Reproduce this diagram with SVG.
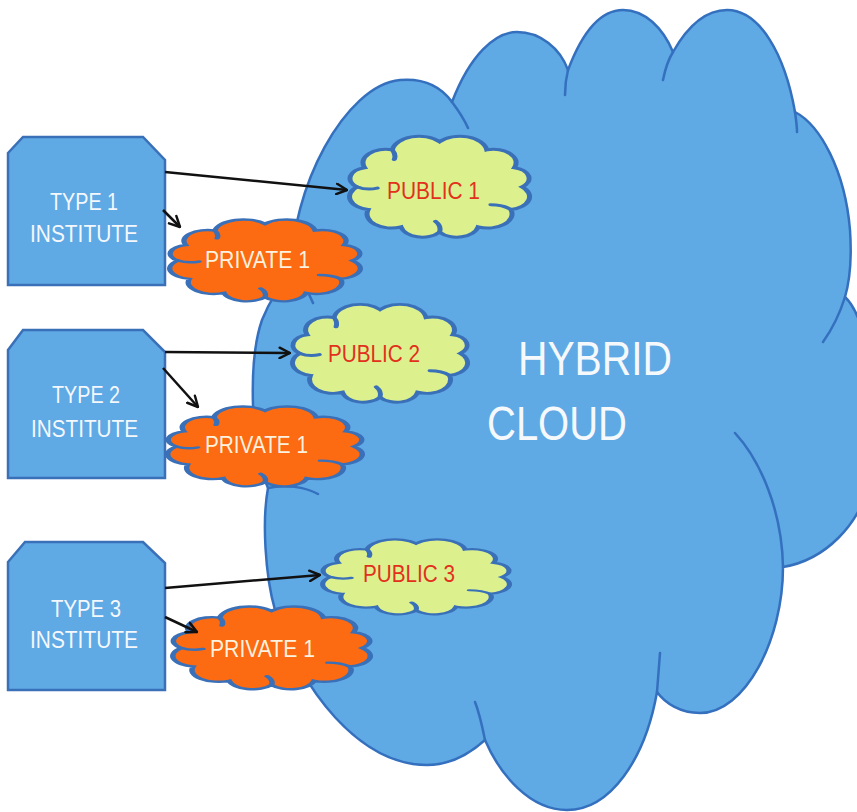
<svg xmlns="http://www.w3.org/2000/svg" width="857" height="812" viewBox="0 0 857 812">
<defs>
<style>
.big{fill:#5fa9e5;stroke:#3470be;stroke-width:2.5;stroke-linejoin:round}
.inner{fill:none;stroke:#3470be;stroke-width:2.5;stroke-linecap:round}
.box{fill:#5fa9e5;stroke:#3a70b8;stroke-width:2.5}
.priv{fill:#fc6a12;stroke:#3a70b8;stroke-width:2.5;vector-effect:non-scaling-stroke}
.pub{fill:#dcf18e;stroke:#3a70b8;stroke-width:2.5;vector-effect:non-scaling-stroke}
.curl{fill:none;stroke:#3a70b8;stroke-width:2.5;stroke-linecap:round;vector-effect:non-scaling-stroke}
.bt{font-family:"Liberation Sans",Arial,sans-serif;font-size:24px;fill:#f4f8fc}
.pt{font-family:"Liberation Sans",Arial,sans-serif;font-size:23px;fill:#fdf2df}
.ut{font-family:"Liberation Sans",Arial,sans-serif;font-size:24px;fill:#e2301c}
.ht{font-family:"Liberation Sans",Arial,sans-serif;font-size:48px;fill:#f6f9fc}
.arrow{fill:none;stroke:#111;stroke-width:2.5;marker-end:url(#ah)}
</style>
<marker id="ah" viewBox="0 0 10 10" refX="9" refY="5" markerWidth="13" markerHeight="13" markerUnits="userSpaceOnUse" orient="auto">
<path d="M1,1 L9,5 L1,9" fill="none" stroke="#111" stroke-width="1.9" stroke-linecap="round" stroke-linejoin="round"/>
</marker>
<path id="cloudShape" d="M91,50 A10.9,10.9 0 0 1 85.5,69 A12,12 0 0 1 69.2,83.6 A10.8,10.8 0 0 1 50,88 A10.8,10.8 0 0 1 30.8,83.6 A12,12 0 0 1 14.5,69 A10.9,10.9 0 0 1 9,50 A9.1,9.1 0 0 1 12.8,33.9 A11.2,11.2 0 0 1 26.5,18.9 A13.5,13.5 0 0 1 50,12 A13.5,13.5 0 0 1 73.5,18.9 A11.2,11.2 0 0 1 87.2,33.9 A9.1,9.1 0 0 1 91,50 Z"/>
<path id="curls" d="M9,50 q5,3 10,1 M85.5,69 q-4,-4 -10,-4 M50,88 q1,-5 -2,-9 M26.5,18.9 q2,4 1,8"/>
</defs>

<g id="hybrid-cloud">
<path class="big" d="M292,272 C290,190 345,85 400,80 C425,78 442,88 452,102 C470,55 495,32 517,32 C540,32 560,48 568,70 C585,25 605,10 623,10 C645,10 663,28 673,52 C690,22 708,10 727,10 C760,10 785,55 795,112 C820,125 845,170 850,230 C852,260 850,280 845,297 C870,320 885,420 870,480 C860,525 825,560 783,567 C783,640 745,713 700,713 C680,713 665,703 657,692 C645,760 610,810 567,810 C530,810 500,775 485,740 C465,758 447,765 427,765 C360,765 300,690 275,610 C265,575 262,520 268,488 C250,450 248,360 262,320 C270,300 280,285 292,272 Z"/>
<path class="inner" d="M452,102 C458,110 464,119 468,128 M568,70 C566,78 565,86 565,95 M673,52 C668,60 665,70 663,80 M795,112 C796,119 797,126 797,132 M845,297 C840,313 833,328 823,342 M735,433 C760,460 782,510 783,567 M657,692 C658,680 659,665 660,653 M485,740 C482,725 479,712 475,702 M268,488 C285,484 305,487 318,494 M292,272 C300,280 308,290 313,303"/>
<text class="ht" x="518" y="375" textLength="154" lengthAdjust="spacingAndGlyphs">HYBRID</text>
<text class="ht" x="487" y="440" textLength="140" lengthAdjust="spacingAndGlyphs">CLOUD</text>
</g>

<g id="type1">
<path class="box" d="M8,153 L23,137 L143,137 L165,160 L165,285 L8,285 Z"/>
<text class="bt" x="50" y="210" textLength="68" lengthAdjust="spacingAndGlyphs">TYPE 1</text>
<text class="bt" x="30" y="242" textLength="108" lengthAdjust="spacingAndGlyphs">INSTITUTE</text>
</g>
<g id="type2">
<path class="box" d="M8,350 L23,330 L143,330 L165,352 L165,478 L8,478 Z"/>
<text class="bt" x="52" y="403" textLength="68" lengthAdjust="spacingAndGlyphs">TYPE 2</text>
<text class="bt" x="31" y="437" textLength="107" lengthAdjust="spacingAndGlyphs">INSTITUTE</text>
</g>
<g id="type3">
<path class="box" d="M8,562 L25,542 L143,542 L165,563 L165,690 L8,690 Z"/>
<text class="bt" x="51" y="617" textLength="70" lengthAdjust="spacingAndGlyphs">TYPE 3</text>
<text class="bt" x="30" y="648" textLength="108" lengthAdjust="spacingAndGlyphs">INSTITUTE</text>
</g>

<g id="public1">
<g transform="translate(339,127.5) scale(2.011,1.188)"><use href="#cloudShape" class="pub"/><use href="#curls" class="curl"/></g>
<text class="ut" x="387" y="199" textLength="93" lengthAdjust="spacingAndGlyphs">PUBLIC 1</text>
</g>
<g id="private1a">
<g transform="translate(158.5,212.3) scale(2.13,0.965)"><use href="#cloudShape" class="priv"/><use href="#curls" class="curl"/></g>
<text class="pt" x="205" y="268" textLength="105" lengthAdjust="spacingAndGlyphs">PRIVATE 1</text>
</g>
<g id="public2">
<g transform="translate(282.2,295.8) scale(1.957,1.153)"><use href="#cloudShape" class="pub"/><use href="#curls" class="curl"/></g>
<text class="ut" x="328" y="362" textLength="92" lengthAdjust="spacingAndGlyphs">PUBLIC 2</text>
</g>
<g id="private1b">
<g transform="translate(156.3,399.5) scale(2.174,0.941)"><use href="#cloudShape" class="priv"/><use href="#curls" class="curl"/></g>
<text class="pt" x="205" y="453" textLength="103" lengthAdjust="spacingAndGlyphs">PRIVATE 1</text>
</g>
<g id="public3">
<g transform="translate(311.7,532.9) scale(2.087,0.882)"><use href="#cloudShape" class="pub"/><use href="#curls" class="curl"/></g>
<text class="ut" x="363" y="582" textLength="92" lengthAdjust="spacingAndGlyphs">PUBLIC 3</text>
</g>
<g id="private1c">
<g transform="translate(161.2,599.2) scale(2.207,0.976)"><use href="#cloudShape" class="priv"/><use href="#curls" class="curl"/></g>
<text class="pt" x="210" y="657" textLength="105" lengthAdjust="spacingAndGlyphs">PRIVATE 1</text>
</g>

<g id="connectors">
<line class="arrow" x1="165" y1="172" x2="347" y2="190"/>
<line class="arrow" x1="163" y1="210" x2="180" y2="227"/>
<line class="arrow" x1="165" y1="352" x2="290" y2="353"/>
<line class="arrow" x1="163" y1="368" x2="198" y2="407"/>
<line class="arrow" x1="165" y1="588" x2="320" y2="575"/>
<line class="arrow" x1="165" y1="617" x2="197" y2="632"/>
</g>
</svg>
